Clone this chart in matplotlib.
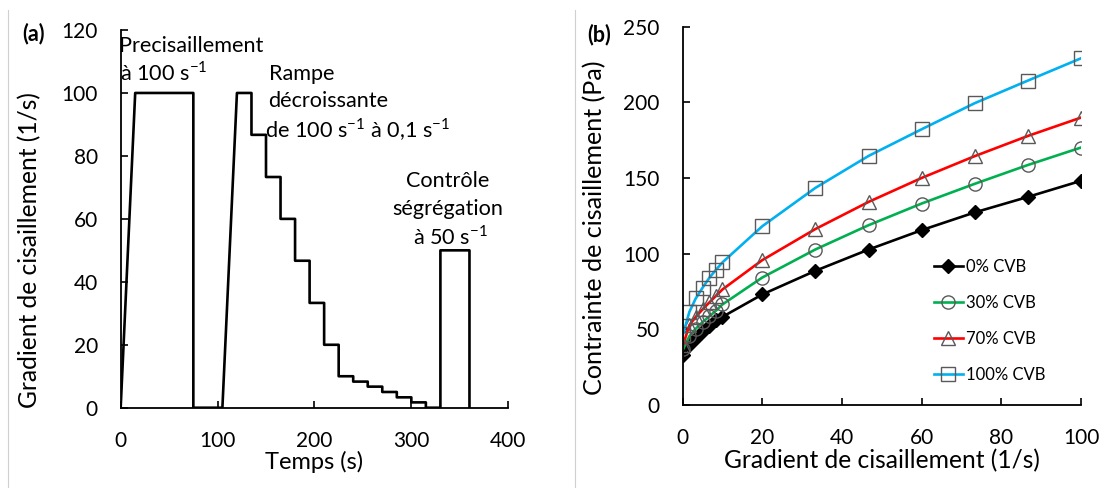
import matplotlib
matplotlib.use("Agg")
import matplotlib.pyplot as plt
from matplotlib.lines import Line2D

plt.rcParams['font.family'] = ['Lato', 'DejaVu Sans']
plt.rcParams['mathtext.fontset'] = 'custom'
plt.rcParams['mathtext.rm'] = 'Lato'

# (a) shear rate protocol
temps = [0, 15, 75, 75, 105, 120, 135, 135, 150, 150, 165, 165, 180, 180, 195, 195,
         210, 210, 225, 225, 240, 240, 255, 255, 270, 270, 285, 285, 300, 300,
         315, 315, 330, 330, 360, 360]
gradient = [0, 100, 100, 0, 0, 100, 100, 86.7, 86.7, 73.3, 73.3, 60, 60, 46.7, 46.7, 33.3,
            33.3, 20, 20, 10, 10, 8.3, 8.3, 6.7, 6.7, 5, 5, 3.3, 3.3, 1.7,
            1.7, 0, 0, 50, 50, 0]

# (b) flow curves
shear = [0.1, 1.7, 3.3, 5, 6.7, 8.3, 10, 20, 33.3, 46.7, 60, 73.3, 86.7, 100]
cvb_0 = [33, 39.8, 44.5, 48.7, 52.4, 56.1, 58.3, 73.1, 88.7, 102.8, 115.6, 127.3, 137.6, 148.2]
cvb_30 = [36.8, 45.5, 50.5, 54.8, 58.6, 62.2, 66.5, 84.3, 102.8, 118.9, 133.2, 146.2, 158.7, 170.2]
cvb_70 = [39.6, 52.8, 58.3, 63.2, 67.8, 72.0, 76.4, 95.8, 116.3, 134.3, 150.1, 164.5, 177.9, 190]
cvb_100 = [46.9, 61.6, 70.5, 77.5, 84.1, 89.2, 94.3, 118.2, 143.5, 164.7, 182.3, 199.5, 214.5, 229.2]

fig = plt.figure(figsize=(11.01, 4.88), dpi=100)

tick_fs = 15

ax1 = fig.add_axes([0.1096, 0.1645, 0.352, 0.774])
ax1.plot(temps, gradient, color='black', lw=1.9)
ax1.set_xlim(0, 400)
ax1.set_ylim(0, 120)
ax1.set_xticks([0, 100, 200, 300, 400])
ax1.set_yticks(range(0, 121, 20))
ax1.set_xlabel("Temps (s)", fontsize=17, labelpad=0.5)
ax1.set_ylabel("Gradient de cisaillement (1/s)", fontsize=17.7, va='center')
ax1.yaxis.set_label_coords(-0.234, 0.418)

ann = dict(fontsize=15.6, ha='center', va='center')
ax1.text(72.6, 114.8, "Precisaillement", **ann)
ax1.text(44.6, 106.4, r"à 100 s$^{\mathregular{-1}}$", **ann)
ax1.text(186.8, 106.1, "Rampe", **ann)
ax1.text(214, 97.3, "décroissante", **ann)
ax1.text(245, 88.3, r"de 100 s$^{\mathregular{-1}}$ à 0,1 s$^{\mathregular{-1}}$", **ann)
ax1.text(337.5, 71.9, "Contrôle", **ann)
ax1.text(337.5, 63.1, "ségrégation", **ann)
ax1.text(340, 54.4, r"à 50 s$^{\mathregular{-1}}$", **ann)

ax2 = fig.add_axes([0.620, 0.170, 0.3618, 0.775])
ax2.plot(shear, cvb_0, color='black', lw=1.9, marker='D', ms=7,
         mfc='black', mec='black', label='0% CVB')
ax2.plot(shear, cvb_30, color='#00B050', lw=1.9, marker='o', ms=9.5,
         mfc='none', mec='#595959', mew=1, label='30% CVB')
ax2.plot(shear, cvb_70, color='#FF0000', lw=1.9, marker='^', ms=9.5,
         mfc='none', mec='#595959', mew=1, label='70% CVB')
ax2.plot(shear, cvb_100, color='#00B0F0', lw=1.9, marker='s', ms=9.5,
         mfc='none', mec='#595959', mew=1, label='100% CVB')
ax2.set_xlim(0, 100)
ax2.set_ylim(0, 250)
ax2.set_xticks(range(0, 101, 20))
ax2.set_yticks(range(0, 251, 50))
ax2.set_xlabel("Gradient de cisaillement (1/s)", fontsize=17.7, labelpad=0.5)
ax2.set_ylabel("Contrainte de cisaillement (Pa)", fontsize=18.1, va='center')
ax2.yaxis.set_label_coords(-0.222, 0.47)
ax2.legend(loc='upper left', bbox_to_anchor=(0.615, 0.405), frameon=False,
           fontsize=12, handlelength=1.7, handletextpad=0.2, labelspacing=1.2,
           borderaxespad=0)

for ax in (ax1, ax2):
    for s in ('top', 'right'):
        ax.spines[s].set_visible(False)
    for s in ('left', 'bottom'):
        ax.spines[s].set_linewidth(1.3)
        ax.spines[s].set_color('black')
    ax.tick_params(direction='in', length=5, width=1.2, labelsize=tick_fs, pad=16.5)

fig.text(0.0205, 0.932, "(a)", fontsize=15.5, fontweight='bold', va='center')
fig.text(0.533, 0.930, "(b)", fontsize=15.5, fontweight='bold', va='center')

# panel borders
for xpix in (8, 575):
    fig.add_artist(Line2D([xpix / 1101, xpix / 1101], [0, 1 - 10 / 488],
                          color='#d0d0d0', lw=0.8))

fig.savefig("out.png", dpi=100)
